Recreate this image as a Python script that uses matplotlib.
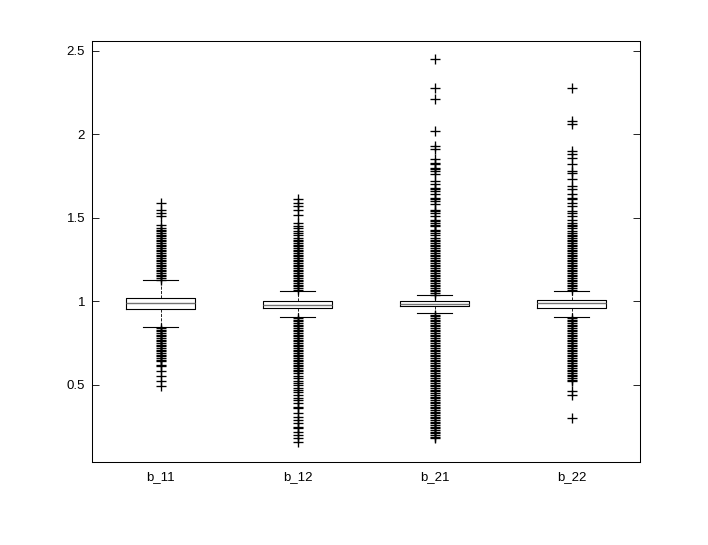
import matplotlib
matplotlib.use('Agg')
import matplotlib.pyplot as plt

plt.rcParams['font.family'] = ['Liberation Sans', 'DejaVu Sans']
plt.rcParams['font.size'] = 9.5

# box statistics
labels = ['b_11', 'b_12', 'b_21', 'b_22']
q1 = [0.952, 0.960, 0.970, 0.962]
med = [0.990, 0.980, 0.984, 0.992]
q3 = [1.022, 1.003, 1.000, 1.006]
whislo = [0.849, 0.904, 0.930, 0.906]
whishi = [1.127, 1.063, 1.035, 1.062]

# outliers (+ markers)
b11_out = [1.59, 1.55, 1.53, 1.51, 1.46, 1.44, 1.43, 1.42, 1.41, 1.40, 1.39, 1.38,
           1.37, 1.36, 1.35, 1.34, 1.33, 1.32, 1.31, 1.30, 1.29, 1.28, 1.27, 1.26,
           1.25, 1.24, 1.23, 1.22, 1.21, 1.20, 1.19, 1.18, 1.17, 1.16, 1.15, 1.14, 1.13,
           0.84, 0.83, 0.82, 0.81, 0.80, 0.79, 0.78, 0.77, 0.76, 0.75, 0.74, 0.73,
           0.72, 0.71, 0.70, 0.69, 0.68, 0.67, 0.66, 0.65, 0.64, 0.62, 0.61, 0.58,
           0.55, 0.52, 0.49]
b12_out = [1.61, 1.59, 1.57, 1.55, 1.52, 1.47, 1.45, 1.44, 1.42, 1.41, 1.40, 1.38,
           1.37, 1.36, 1.35, 1.34, 1.33, 1.32, 1.31, 1.30, 1.29, 1.28, 1.27, 1.26,
           1.25, 1.24, 1.23, 1.22, 1.21, 1.20, 1.19, 1.18, 1.17, 1.16, 1.15, 1.14,
           1.13, 1.12, 1.11, 1.10, 1.09, 1.08, 1.07,
           0.90, 0.89, 0.88, 0.87, 0.86, 0.85, 0.84, 0.83, 0.82, 0.81, 0.80, 0.79,
           0.78, 0.77, 0.76, 0.75, 0.74, 0.73, 0.72, 0.71, 0.70, 0.69, 0.68, 0.67,
           0.66, 0.65, 0.64, 0.63, 0.62, 0.61, 0.60, 0.59, 0.58, 0.57, 0.555, 0.54,
           0.525, 0.51, 0.50, 0.48, 0.47, 0.455, 0.44, 0.42, 0.41, 0.39, 0.37, 0.36,
           0.33, 0.31, 0.29, 0.27, 0.25, 0.24, 0.22, 0.20, 0.18, 0.16]
b21_out = [2.45, 2.28, 2.21, 2.02, 1.93, 1.91, 1.85, 1.83, 1.82, 1.80, 1.79, 1.78,
           1.76, 1.72, 1.70, 1.68, 1.67, 1.66, 1.64, 1.62, 1.61, 1.60, 1.58, 1.55,
           1.54, 1.53, 1.51, 1.49, 1.48, 1.47, 1.46, 1.45, 1.43, 1.42, 1.41, 1.40,
           1.38, 1.37, 1.36, 1.35, 1.34, 1.33, 1.32, 1.31, 1.30, 1.29, 1.28, 1.27,
           1.26, 1.25, 1.24, 1.23, 1.22, 1.21, 1.20, 1.19, 1.18, 1.17, 1.16, 1.15,
           1.14, 1.13, 1.12, 1.11, 1.10, 1.09, 1.08, 1.07, 1.06, 1.05, 1.04,
           0.92, 0.91, 0.90, 0.89, 0.88, 0.87, 0.86, 0.85, 0.84, 0.83, 0.82, 0.81,
           0.80, 0.79, 0.78, 0.77, 0.76, 0.75, 0.74, 0.73, 0.72, 0.71, 0.70, 0.69,
           0.68, 0.67, 0.66, 0.65, 0.64, 0.63, 0.62, 0.61, 0.60, 0.59, 0.58, 0.57,
           0.56, 0.55, 0.54, 0.53, 0.52, 0.51, 0.50, 0.49, 0.48, 0.47, 0.46, 0.45,
           0.44, 0.43, 0.42, 0.41, 0.40, 0.39, 0.38, 0.37, 0.36, 0.35, 0.34, 0.33,
           0.32, 0.31, 0.30, 0.29, 0.28, 0.27, 0.26, 0.25, 0.24, 0.23, 0.22, 0.21,
           0.20, 0.19, 0.18]
b22_out = [2.28, 2.08, 2.06, 1.90, 1.88, 1.86, 1.82, 1.78, 1.77, 1.73, 1.69, 1.67,
           1.64, 1.62, 1.61, 1.59, 1.57, 1.54, 1.53, 1.51, 1.49, 1.47, 1.46, 1.45,
           1.44, 1.42, 1.41, 1.40, 1.39, 1.38, 1.37, 1.36, 1.35, 1.34, 1.33, 1.32,
           1.31, 1.30, 1.29, 1.28, 1.27, 1.26, 1.25, 1.24, 1.23, 1.22, 1.21, 1.20,
           1.19, 1.18, 1.17, 1.16, 1.15, 1.14, 1.13, 1.12, 1.11, 1.10, 1.09, 1.08, 1.07,
           0.90, 0.89, 0.88, 0.87, 0.86, 0.85, 0.84, 0.83, 0.82, 0.81, 0.80, 0.79,
           0.78, 0.77, 0.76, 0.75, 0.74, 0.73, 0.72, 0.71, 0.70, 0.69, 0.68, 0.67,
           0.66, 0.65, 0.64, 0.63, 0.62, 0.61, 0.60, 0.59, 0.58, 0.57, 0.56, 0.55,
           0.54, 0.53, 0.52, 0.46, 0.44, 0.30]
outliers = [b11_out, b12_out, b21_out, b22_out]

yticks = [0.5, 1, 1.5, 2, 2.5]
ytick_labels = ['0.5', '1', '1.5', '2', '2.5']

stats = []
for i in range(len(labels)):
    stats.append(dict(label=labels[i], q1=q1[i], med=med[i], q3=q3[i],
                      whislo=whislo[i], whishi=whishi[i], fliers=outliers[i]))

fig = plt.figure(figsize=(7.08, 5.45), dpi=100)
ax = fig.add_axes([0.130, 0.153, 0.774, 0.772])

ax.bxp(stats, positions=[1, 2, 3, 4], widths=0.5, capwidths=0.25,
       boxprops=dict(color='k', lw=0.8),
       medianprops=dict(color='0.45', lw=1.0),
       whiskerprops=dict(color='k', lw=0.6, ls='--'),
       capprops=dict(color='k', lw=0.8),
       flierprops=dict(marker='+', markersize=6.5, markeredgecolor='k',
                       markeredgewidth=0.95, linestyle='none'))

ax.set_xlim(0.5, 4.5)
ax.set_ylim(0.04, 2.56)
ax.set_yticks(yticks)
ax.set_yticklabels(ytick_labels)
ax.tick_params(axis='y', direction='in', length=5, width=0.6, right=True, pad=5)
ax.tick_params(axis='x', length=0, pad=7)
for sp in ax.spines.values():
    sp.set_linewidth(0.75)

fig.savefig('out.png', dpi=100)
